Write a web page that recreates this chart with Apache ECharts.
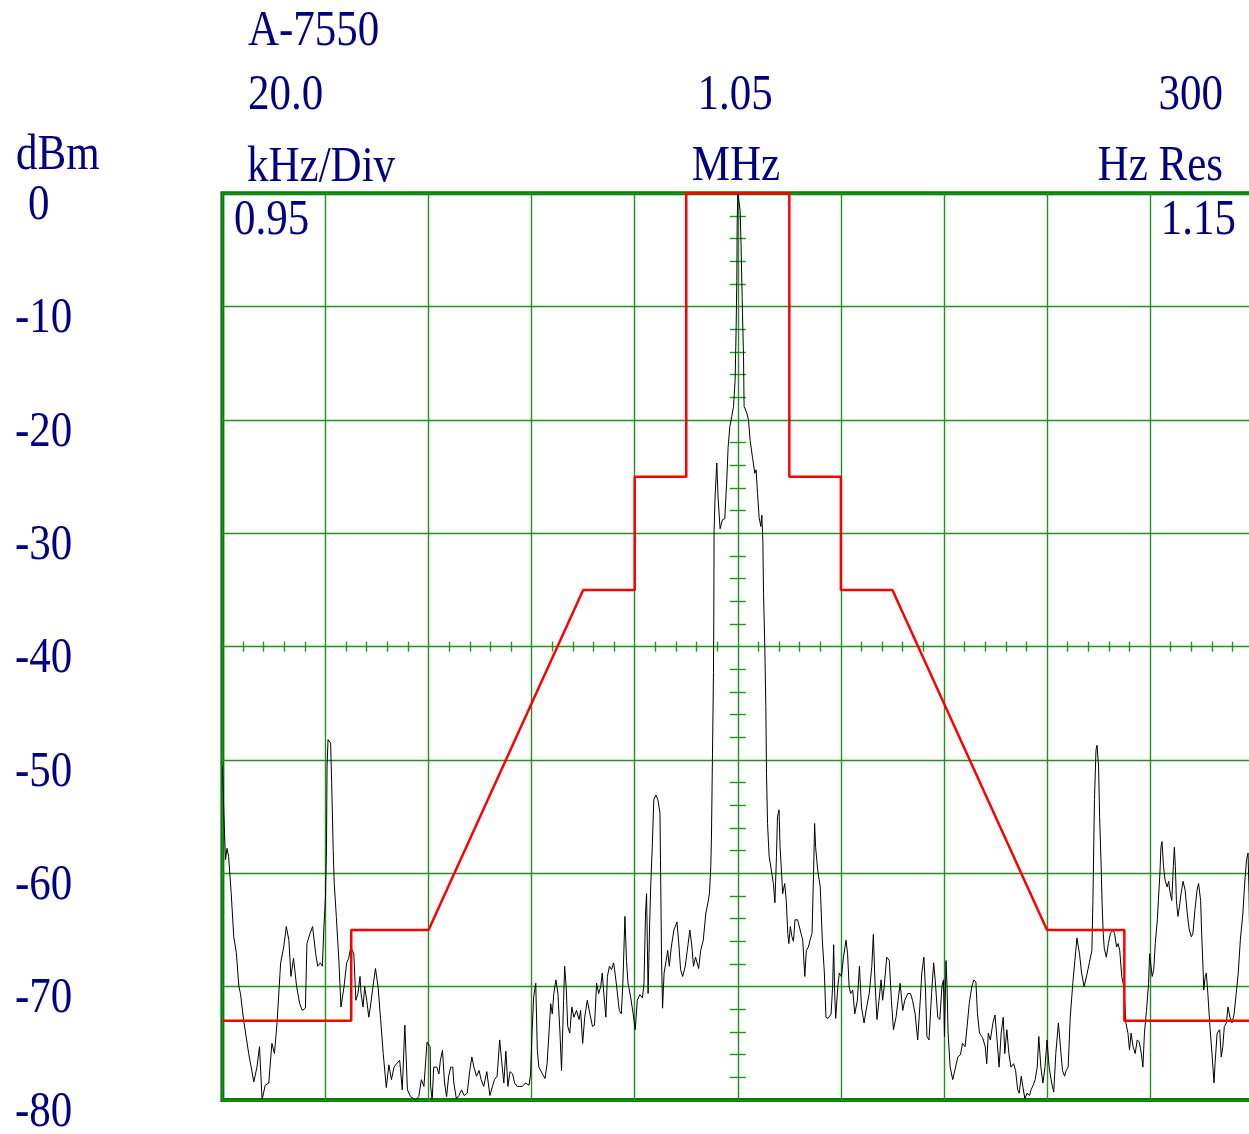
<!DOCTYPE html>
<html>
<head>
<meta charset="utf-8">
<title>A-7550 spectrum</title>
<script src="https://cdn.jsdelivr.net/npm/echarts@6/dist/echarts.min.js"></script>
<style>
  html, body { margin: 0; padding: 0; background: #ffffff; overflow: hidden; }
  /* the graticule runs a few pixels past the right edge of the view */
  #chart { width: 1262px; height: 1134px; }
</style>
</head>
<body>
<div id="chart"></div>
<script>
// Spectrum trace: frequency offset from the 1.05 MHz centre (kHz) and level (dBm).
const traceKHz = [
  -100.0, -99.7, -99.4, -99.1, -98.8, -98.3, -97.8, -97.3, -96.8, -96.5,
  -95.9, -94.9, -93.9, -93.3, -92.8, -92.3, -91.7, -91.0, -90.4, -89.9,
  -89.4, -88.7, -88.1, -87.6, -87.1, -86.7, -86.2, -85.6, -85.0, -84.5,
  -83.9, -83.6, -83.0, -82.5, -81.9, -81.5, -81.0, -80.6, -80.3, -80.0,
  -79.8, -79.7, -79.5, -79.0, -78.8, -78.5, -78.3, -77.9, -77.4, -77.0,
  -76.4, -75.9, -75.5, -75.1, -74.5, -74.1, -73.7, -73.3, -73.1, -72.7,
  -72.4, -72.0, -71.6, -71.3, -70.7, -70.3, -69.8, -69.3, -68.8, -68.2,
  -67.7, -67.2, -66.7, -66.2, -65.6, -65.1, -64.6, -64.1, -63.5, -62.5,
  -61.9, -61.4, -60.9, -60.3, -59.7, -59.6, -59.3, -59.0, -58.4, -58.0,
  -57.7, -57.3, -56.9, -56.5, -56.1, -55.7, -55.3, -55.1, -54.6, -54.1,
  -53.6, -53.1, -52.5, -52.0, -51.6, -51.2, -50.7, -50.2, -49.8, -49.3,
  -48.7, -48.1, -47.6, -47.2, -46.7, -46.2, -45.7, -45.4, -45.0, -44.6,
  -44.2, -43.7, -43.3, -42.8, -41.8, -41.2, -40.5, -40.2, -39.9, -39.6,
  -39.2, -38.9, -38.6, -37.9, -37.4, -37.0, -36.6, -36.3, -36.0, -35.7,
  -35.3, -34.9, -34.5, -34.2, -33.8, -33.6, -33.3, -33.0, -32.6, -32.2,
  -31.8, -31.3, -30.8, -30.5, -30.1, -29.7, -29.2, -28.7, -28.2, -27.8,
  -27.4, -27.0, -26.6, -26.3, -26.0, -25.6, -25.3, -24.9, -24.5, -24.1,
  -23.9, -23.5, -23.0, -22.6, -22.3, -21.9, -21.6, -21.3, -20.8, -20.3,
  -19.9, -19.5, -19.0, -18.5, -18.2, -17.9, -17.7, -17.4, -17.1, -16.9,
  -16.6, -16.3, -15.9, -15.5, -15.1, -15.0, -14.8, -14.6, -14.3, -13.9,
  -13.6, -13.3, -12.9, -12.4, -11.8, -11.4, -11.1, -10.7, -10.2, -9.8,
  -9.3, -8.9, -8.6, -8.2, -7.6, -7.2, -6.7, -6.2, -5.8, -5.5,
  -5.24, -5.11, -4.91, -4.72, -4.66, -4.60, -4.41, -4.08, -3.83, -3.44,
  -2.97, -2.52, -2.14, -1.88, -1.55, -1.17, -0.83, -0.52, -0.33, -0.19,
  -0.12, 0.0, 0.45, 0.64, 0.91, 1.11, 1.22, 1.75, 2.08, 2.39,
  2.85, 3.30, 3.55, 3.83, 4.14, 4.47, 4.66, 4.86, 4.99, 5.24,
  5.44, 5.57, 5.77, 6.08, 6.5, 6.9, 7.2, 7.5, 7.7, 8.0,
  8.2, 8.5, 8.7, 9.1, 9.4, 9.7, 9.9, 10.2, 10.5, 10.8,
  11.1, 11.6, 12.1, 12.6, 13.0, 13.3, 13.7, 14.0, 14.4, 14.7,
  14.9, 15.1, 15.5, 16.0, 16.4, 16.8, 17.1, 17.5, 18.1, 18.4,
  18.6, 18.8, 19.0, 19.4, 19.7, 20.1, 20.5, 21.0, 21.3, 21.6,
  21.9, 22.3, 22.7, 23.2, 23.6, 24.0, 24.5, 25.0, 25.5, 26.0,
  26.3, 26.6, 27.0, 27.4, 27.8, 28.1, 28.4, 28.9, 29.4, 29.8,
  30.2, 30.7, 31.1, 31.5, 32.0, 32.4, 33.0, 33.5, 33.9, 34.4,
  34.9, 35.4, 35.7, 36.1, 36.4, 36.7, 37.1, 37.6, 38.0, 38.3,
  38.8, 39.2, 39.6, 39.9, 40.1, 40.4, 40.6, 40.8, 41.2, 41.7,
  42.1, 42.7, 43.2, 43.6, 44.1, 44.5, 44.9, 45.4, 45.8, 46.2,
  46.5, 46.9, 47.5, 48.0, 48.3, 48.6, 49.0, 49.5, 49.9, 50.3,
  50.7, 51.1, 51.5, 51.8, 52.2, 52.6, 53.0, 53.5, 53.9, 54.3,
  54.6, 55.0, 55.3, 55.7, 56.1, 56.6, 56.9, 57.3, 57.7, 58.1,
  58.4, 58.8, 59.2, 59.6, 60.0, 60.4, 60.9, 61.3, 61.7, 62.2,
  62.6, 63.0, 63.4, 63.7, 64.1, 64.5, 65.0, 65.4, 65.8, 66.3,
  66.7, 67.2, 67.8, 68.2, 68.7, 68.9, 69.2, 69.5, 69.7, 70.0,
  70.2, 70.5, 70.7, 70.9, 71.1, 71.5, 71.9, 72.3, 72.8, 73.1,
  73.5, 73.8, 74.1, 74.5, 74.9, 75.3, 75.7, 76.0, 76.3, 76.7,
  77.1, 77.5, 77.9, 78.3, 78.6, 78.9, 79.3, 79.7, 79.9, 80.2,
  80.4, 80.7, 81.0, 81.4, 81.6, 81.9, 82.1, 82.3, 82.6, 82.9,
  83.3, 83.6, 83.8, 84.2, 84.5, 84.7, 84.9, 85.1, 85.4, 85.7,
  86.0, 86.4, 86.8, 87.2, 87.6, 88.0, 88.3, 88.7, 89.1, 89.4,
  89.8, 90.0, 90.3, 90.4, 90.7, 90.9, 91.2, 91.6, 92.0, 92.4,
  92.6, 93.0, 93.5, 93.8, 94.1, 94.4, 94.8, 95.1, 95.5, 95.9,
  96.3, 96.7, 97.1, 97.5, 98.0, 98.3, 98.7, 99.0, 99.2, 99.4
];
const traceDbm = [
  -50.5, -55.0, -58.8, -57.8, -58.5, -61.7, -65.6, -67.0, -70.0, -70.6,
  -72.9, -75.9, -78.4, -77.1, -75.3, -80.0, -78.7, -78.5, -75.0, -75.9,
  -73.2, -67.9, -66.5, -64.7, -65.9, -69.1, -67.5, -70.0, -71.5, -72.1,
  -71.9, -66.2, -65.3, -64.7, -67.1, -68.2, -67.9, -68.2, -64.7, -62.1,
  -57.7, -50.6, -48.2, -48.5, -52.0, -58.0, -60.9, -63.8, -67.7, -71.8,
  -70.0, -67.9, -67.5, -66.5, -67.1, -71.2, -70.6, -69.1, -70.6, -71.8,
  -70.0, -71.2, -72.7, -71.8, -69.7, -68.4, -70.0, -72.9, -75.9, -78.9,
  -76.9, -78.2, -77.1, -76.8, -76.5, -79.1, -73.4, -79.1, -79.7, -80.0,
  -79.7, -78.2, -78.8, -74.9, -75.3, -78.8, -80.0, -77.1, -77.1, -77.7,
  -76.5, -75.6, -78.5, -79.7, -77.9, -77.1, -77.1, -78.5, -79.9, -79.6,
  -79.1, -79.6, -79.4, -77.4, -76.2, -77.1, -77.9, -77.4, -78.2, -78.8,
  -77.5, -79.6, -78.8, -78.2, -77.9, -74.7, -77.1, -78.5, -75.7, -78.8,
  -77.5, -77.7, -78.5, -78.8, -78.8, -78.5, -78.7, -77.7, -73.8, -70.9,
  -69.7, -75.6, -77.1, -77.7, -78.1, -76.8, -73.8, -71.5, -72.4, -70.6,
  -69.4, -70.6, -74.1, -77.4, -71.2, -68.2, -70.0, -73.5, -74.1, -71.8,
  -72.7, -72.1, -72.9, -72.1, -75.0, -72.7, -71.2, -72.4, -73.5, -73.4,
  -69.7, -70.6, -70.0, -68.8, -70.6, -72.7, -69.1, -68.2, -68.5, -67.9,
  -68.5, -70.0, -72.1, -72.4, -69.7, -63.8, -67.7, -69.7, -70.9, -72.4,
  -73.8, -71.2, -70.7, -71.0, -69.7, -63.5, -61.8, -70.6, -64.4, -61.2,
  -57.7, -53.5, -53.1, -53.5, -54.7, -58.8, -67.4, -71.9, -68.8, -67.7,
  -66.8, -68.2, -66.5, -65.0, -64.3, -66.5, -68.5, -69.1, -68.2, -66.8,
  -65.0, -66.5, -68.2, -67.4, -68.4, -66.8, -65.9, -63.5, -62.6, -61.8,
  -59.4, -56.8, -49.4, -42.3, -37.7, -29.7, -26.8, -23.8, -26.8, -29.6,
  -28.8, -28.7, -25.3, -22.4, -20.6, -19.7, -18.8, -16.5, -12.1, -7.7,
  -2.7, 0.0, -1.5, -4.7, -10.6, -14.4, -18.8, -19.4, -20.0, -21.8,
  -23.3, -24.7, -24.4, -26.5, -28.6, -29.4, -28.4, -30.6, -35.3, -40.0,
  -45.3, -51.2, -55.6, -58.5, -59.7, -60.9, -62.6, -58.5, -55.0, -54.4,
  -57.7, -60.0, -61.8, -60.9, -62.4, -65.3, -66.2, -64.7, -65.6, -66.0,
  -64.1, -64.1, -65.0, -65.9, -69.1, -66.8, -66.5, -65.9, -65.3, -60.0,
  -55.6, -57.7, -59.7, -61.2, -65.9, -68.8, -72.7, -72.8, -72.4, -70.0,
  -66.3, -70.6, -72.8, -70.0, -68.8, -69.1, -67.4, -65.9, -67.1, -70.0,
  -70.6, -70.3, -72.4, -71.2, -68.2, -71.8, -73.2, -71.8, -70.6, -68.2,
  -65.4, -69.4, -72.9, -71.2, -69.4, -71.2, -70.0, -67.4, -67.7, -71.2,
  -73.8, -72.7, -71.2, -69.7, -72.1, -71.2, -70.6, -70.6, -71.2, -72.4,
  -74.7, -71.2, -68.8, -67.4, -70.0, -74.4, -74.7, -70.6, -67.9, -69.4,
  -72.7, -72.9, -70.0, -69.4, -74.4, -67.7, -70.0, -74.1, -77.1, -78.2,
  -77.4, -76.2, -76.0, -75.0, -75.3, -73.5, -71.5, -70.0, -69.4, -69.6,
  -72.4, -74.1, -74.5, -75.3, -76.8, -74.1, -74.7, -73.2, -72.5, -74.7,
  -77.1, -74.1, -72.7, -75.9, -73.8, -75.9, -77.1, -76.8, -77.4, -79.1,
  -79.4, -77.9, -78.8, -79.9, -79.4, -79.6, -79.1, -78.7, -78.2, -77.1,
  -74.4, -77.1, -78.5, -77.1, -74.7, -77.1, -78.5, -79.3, -75.9, -73.2,
  -75.3, -77.4, -77.9, -77.4, -77.1, -72.7, -69.7, -67.7, -65.7, -67.1,
  -68.8, -70.0, -68.8, -67.9, -66.8, -62.4, -53.5, -49.1, -48.7, -50.6,
  -55.0, -59.4, -62.9, -65.3, -66.6, -67.4, -66.2, -65.3, -65.0, -65.3,
  -66.5, -66.2, -66.8, -69.1, -70.0, -73.2, -74.1, -75.6, -74.1, -75.3,
  -75.9, -74.7, -74.9, -75.9, -77.1, -74.1, -72.1, -69.7, -67.1, -67.1,
  -69.1, -68.5, -66.2, -64.1, -62.4, -60.0, -57.7, -57.2, -59.4, -60.6,
  -61.2, -60.7, -61.5, -62.4, -59.4, -57.7, -59.4, -62.4, -63.8, -62.9,
  -61.8, -60.7, -61.5, -63.5, -65.0, -65.6, -65.3, -63.2, -61.5, -60.9,
  -62.4, -65.3, -68.8, -70.3, -69.1, -68.8, -70.6, -73.5, -75.9, -78.5,
  -76.8, -74.1, -73.8, -76.2, -75.3, -73.5, -73.2, -71.8, -72.7, -73.2,
  -72.4, -70.6, -68.8, -65.9, -63.5, -61.2, -58.8, -58.2, -61.8, -68.8
];

// Emission mask: corner frequencies (kHz offset) and limits (dBm).
const maskKHz = [-100, -75, -75, -60, -30, -20, -20, -10, -10, 10, 10, 20, 20, 30, 60, 75, 75, 100];
const maskDbm = [-73, -73, -65, -65, -35, -35, -25, -25, 0, 0, -25, -25, -35, -35, -65, -65, -73, -73];

// Level scale tick values (dBm).
const levelTicks = [0, -10, -20, -30, -40, -50, -60, -70, -80];

// Header annotations.
const instrumentName = 'A-7550';
const spanPerDiv = '20.0';
const spanUnit = 'kHz/Div';
const centreFreq = '1.05';
const centreUnit = 'MHz';
const resBandwidth = '300';
const resUnit = 'Hz Res';
const startFreq = '0.95';
const stopFreq = '1.15';
const levelUnit = 'dBm';

// ---- drawing ----
const PLOT = { left: 222.4, top: 193.3, width: 1030.8, height: 906.7 };
const GRID_GREEN = '#219121';
const FRAME_GREEN = '#007a00';
const INK = '#000080';
const FONT = '43px "Liberation Serif", "Times New Roman", serif';
const STRETCH_Y = 1.2;

const chart = echarts.init(document.getElementById('chart'), null, { renderer: 'canvas' });

const hidden = { show: false };
const option = {
  animation: false,
  backgroundColor: '#ffffff',
  grid: {
    left: PLOT.left, top: PLOT.top, width: PLOT.width, height: PLOT.height,
    show: true, borderColor: FRAME_GREEN, borderWidth: 4, backgroundColor: 'transparent'
  },
  xAxis: [
    {
      type: 'value', min: -100, max: 100, interval: 20,
      axisLine: { show: false, onZero: false }, axisTick: hidden, axisLabel: hidden,
      splitLine: { show: true, lineStyle: { color: GRID_GREEN, width: 1.4 } }
    },
    {
      // centre-line graticule ticks along the -40 dBm line
      type: 'value', min: -100, max: 100, interval: 20, position: 'bottom',
      offset: -(PLOT.height / 2) - 5,
      axisLine: { show: false, onZero: false }, axisTick: hidden, axisLabel: hidden,
      splitLine: hidden,
      minorTick: { show: true, splitNumber: 5, length: 10, lineStyle: { color: GRID_GREEN, width: 1.4 } }
    }
  ],
  yAxis: [
    {
      type: 'value', min: -80, max: 0, interval: 10,
      axisLine: { show: false, onZero: false }, axisTick: hidden, axisLabel: hidden,
      splitLine: { show: true, lineStyle: { color: GRID_GREEN, width: 1.4 } }
    },
    {
      // centre-line graticule ticks along the 1.05 MHz line
      type: 'value', min: -80, max: 0, interval: 10, position: 'left',
      offset: -(PLOT.width / 2) - 8,
      axisLine: { show: false, onZero: false }, axisTick: hidden, axisLabel: hidden,
      splitLine: hidden,
      minorTick: { show: true, splitNumber: 5, length: 16, lineStyle: { color: GRID_GREEN, width: 1.4 } }
    }
  ],
  series: [
    {
      name: 'trace', type: 'line', xAxisIndex: 0, yAxisIndex: 0,
      data: traceKHz.map((k, i) => [k, traceDbm[i]]),
      showSymbol: false, symbol: 'none', silent: true, z: 3,
      lineStyle: { color: '#000000', width: 1 }
    },
    {
      name: 'mask', type: 'line', xAxisIndex: 0, yAxisIndex: 0,
      data: maskKHz.map((k, i) => [k, maskDbm[i]]),
      showSymbol: false, symbol: 'none', silent: true, z: 4,
      lineStyle: { color: '#ff0000', width: 2.5 }
    }
  ]
};
chart.setOption(option);

function label(text, x, y, align) {
  return {
    type: 'text', x: x, y: y, scaleY: STRETCH_Y, z: 20, silent: true,
    style: {
      text: text, font: FONT, fill: INK,
      align: align, textAlign: align,
      verticalAlign: 'middle', textVerticalAlign: 'middle'
    }
  };
}

const texts = [
  label(instrumentName, 248, 31, 'left'),
  label(spanPerDiv, 248, 95, 'left'),
  label(spanUnit, 247, 167, 'left'),
  label(levelUnit, 16, 155, 'left'),
  label(centreFreq, 735, 95, 'center'),
  label(centreUnit, 736, 166, 'center'),
  label(resBandwidth, 1223, 95, 'right'),
  label(resUnit, 1223, 166, 'right'),
  label(startFreq, 234, 220, 'left'),
  label(stopFreq, 1236, 220, 'right')
];
levelTicks.forEach(function (v) {
  const txt = String(v);
  const y = chart.convertToPixel({ yAxisIndex: 0 }, v);
  texts.push(label(txt, txt.length === 1 ? 28 : 15, y + 12, 'left'));
});
chart.setOption({ graphic: { elements: texts } });
</script>
</body>
</html>
